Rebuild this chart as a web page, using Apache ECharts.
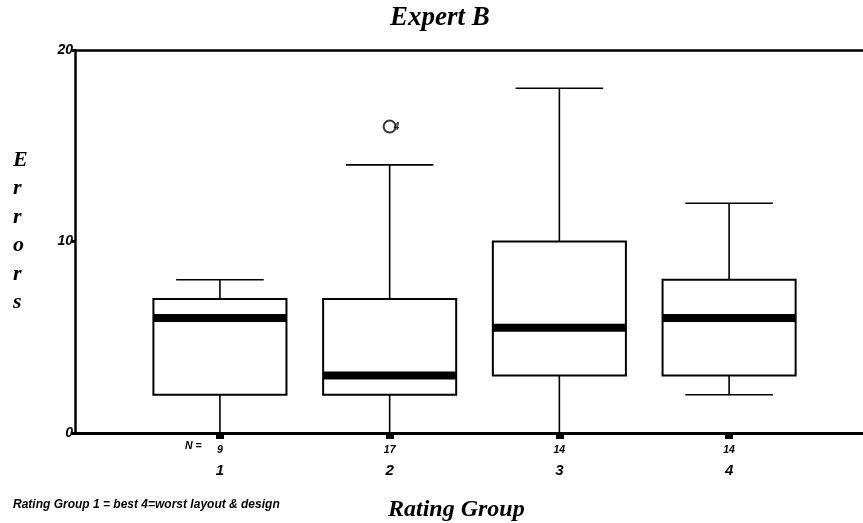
<!DOCTYPE html>
<html><head><meta charset="utf-8">
<script src="https://cdn.jsdelivr.net/npm/echarts@6/dist/echarts.min.js"></script>
<style>html,body{margin:0;padding:0;background:#fff}#c{width:863px;height:523px}</style>
</head><body><div id="c"></div>
<script>
const groups = [1, 2, 3, 4];
const counts = [9, 17, 14, 14];
const lows = [0, 0, 0, 2];
const q1s = [2, 2, 3, 3];
const medians = [6, 3, 5.5, 6];
const q3s = [7, 7, 10, 8];
const highs = [8, 14, 18, 12];
const outliers = [[2, 16, '4']];
const yTicks = [0, 10, 20];

const boxData = groups.map((g, i) => [g, lows[i], q1s[i], medians[i], q3s[i], highs[i]]);

const chart = echarts.init(document.getElementById('c'));
chart.setOption({
  animation: false,
  backgroundColor: '#fff',
  graphic: [
    {type: 'text', left: 390, top: 5, style: {text: 'Expert B', fontFamily: 'Liberation Serif', fontStyle: 'italic', fontWeight: 'bold', fontSize: 27, fill: '#000'}},
    {type: 'text', left: 13, top: 146, style: {text: 'E\nr\nr\no\nr\ns', fontFamily: 'Liberation Serif', fontStyle: 'italic', fontWeight: 'bold', fontSize: 22, lineHeight: 28.5, fill: '#000'}},
    {type: 'text', left: 388, top: 498, style: {text: 'Rating Group', fontFamily: 'Liberation Serif', fontStyle: 'italic', fontWeight: 'bold', fontSize: 24, fill: '#000'}},
    {type: 'text', left: 13, top: 499, style: {text: 'Rating Group 1 = best 4=worst layout & design', fontFamily: 'Liberation Sans', fontStyle: 'italic', fontWeight: 'bold', fontSize: 12, fill: '#000'}},
    {type: 'text', left: 185, top: 441, style: {text: 'N =', fontFamily: 'Liberation Sans', fontStyle: 'italic', fontWeight: 'bold', fontSize: 10.5, fill: '#000'}}
  ],
  grid: {left: 75, top: 50, right: 0, bottom: 90, show: false},
  xAxis: [{
    type: 'value', min: 0.146, max: 4.789,
    splitLine: {show: false},
    axisLine: {show: true, onZero: false, lineStyle: {color: '#000', width: 3}},
    axisTick: {show: true, customValues: groups, length: 6, lineStyle: {color: '#000', width: 8}},
    axisLabel: {
      customValues: groups,
      margin: 7,
      formatter: v => '{n|' + counts[groups.indexOf(v)] + '}\n{c|' + v + '}',
      rich: {
        n: {fontFamily: 'Liberation Sans', fontStyle: 'italic', fontWeight: 'bold', fontSize: 10.5, color: '#000', lineHeight: 20},
        c: {fontFamily: 'Liberation Sans', fontStyle: 'italic', fontWeight: 'bold', fontSize: 15, color: '#000', lineHeight: 22}
      }
    }
  }, {
    type: 'value', position: 'top', min: 0.146, max: 4.789,
    splitLine: {show: false},
    axisLine: {show: true, onZero: false, lineStyle: {color: '#000', width: 2.5}},
    axisTick: {show: false},
    axisLabel: {show: false}
  }],
  yAxis: {
    type: 'value', min: 0, max: 20, interval: 10,
    splitLine: {show: false},
    axisLine: {show: true, lineStyle: {color: '#000', width: 2.5}},
    axisTick: {show: true, length: 3, lineStyle: {color: '#000', width: 3}},
    axisLabel: {margin: 2, fontFamily: 'Liberation Sans', fontStyle: 'italic', fontWeight: 'bold', fontSize: 14, color: '#000'}
  },
  series: [
    {
      type: 'custom',
      data: boxData,
      clip: false,
      renderItem: function (params, api) {
        const x = api.value(0);
        const unit = api.size([1, 0])[0];
        const hw = unit * 0.392;
        const cw = unit * 0.258;
        const c = api.coord([x, 0])[0];
        const yLow = api.coord([x, api.value(1)])[1];
        const yQ1 = api.coord([x, api.value(2)])[1];
        const yMed = api.coord([x, api.value(3)])[1];
        const yQ3 = api.coord([x, api.value(4)])[1];
        const yHigh = api.coord([x, api.value(5)])[1];
        const ls = {stroke: '#000', lineWidth: 1.6, fill: null};
        return {
          type: 'group',
          children: [
            {type: 'line', shape: {x1: c, y1: yQ3, x2: c, y2: yHigh}, style: ls},
            {type: 'line', shape: {x1: c - cw, y1: yHigh, x2: c + cw, y2: yHigh}, style: ls},
            {type: 'line', shape: {x1: c, y1: yQ1, x2: c, y2: yLow}, style: ls},
            {type: 'line', shape: {x1: c - cw, y1: yLow, x2: c + cw, y2: yLow}, style: ls},
            {type: 'rect', shape: {x: c - hw, y: yQ3, width: 2 * hw, height: yQ1 - yQ3}, style: {stroke: '#000', lineWidth: 2, fill: '#fff'}},
            {type: 'rect', shape: {x: c - hw, y: yMed - 4, width: 2 * hw, height: 8}, style: {fill: '#000'}}
          ]
        };
      }
    },
    {
      type: 'scatter',
      data: outliers.map(o => [o[0], o[1], o[2]]),
      symbol: 'emptyCircle',
      symbolSize: 12,
      itemStyle: {color: '#000', borderColor: '#000', borderWidth: 1.3},
      label: {show: true, position: 'right', distance: -3, offset: [0, 1], formatter: p => p.value[2], fontFamily: 'Liberation Sans', fontStyle: 'italic', fontWeight: 'bold', fontSize: 10, color: '#000'}
    }
  ]
});
</script></body></html>
